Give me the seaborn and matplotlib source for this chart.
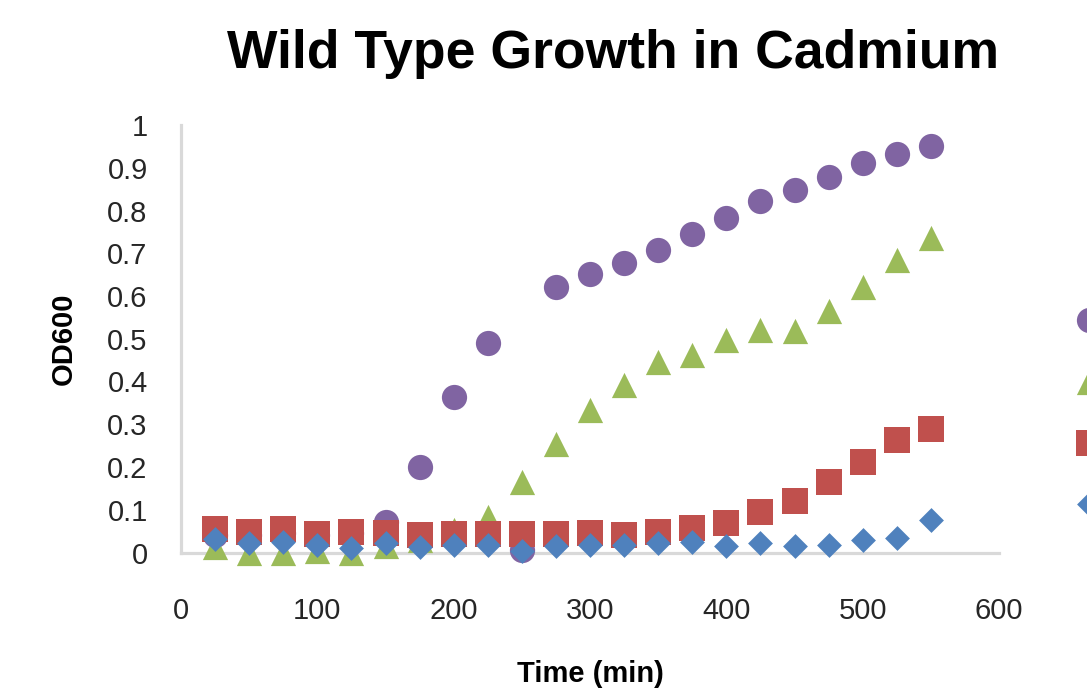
import matplotlib
matplotlib.use('Agg')
import matplotlib.pyplot as plt
import seaborn as sns
import pandas as pd
from matplotlib.ticker import FuncFormatter

# dados (OD600 x tempo)
time_min = [25, 50, 75, 100, 125, 150, 175, 200, 225, 250, 275,
            300, 325, 350, 375, 400, 425, 450, 475, 500, 525, 550]

od_purple = [0.04, 0.04, 0.045, 0.04, 0.045, 0.072, 0.2, 0.363, 0.49, 0.005, 0.62,
             0.652, 0.677, 0.708, 0.745, 0.783, 0.822, 0.849, 0.879, 0.91, 0.931, 0.95]
od_green = [0.012, 0.0, 0.0, 0.004, 0.0, 0.015, 0.03, 0.052, 0.082, 0.166, 0.254,
            0.334, 0.392, 0.445, 0.462, 0.496, 0.52, 0.519, 0.564, 0.621, 0.685, 0.735]
od_red = [0.055, 0.049, 0.055, 0.043, 0.049, 0.045, 0.041, 0.043, 0.043, 0.043, 0.043,
          0.045, 0.041, 0.049, 0.058, 0.068, 0.094, 0.121, 0.166, 0.211, 0.262, 0.288]
od_blue = [0.032, 0.022, 0.025, 0.018, 0.01, 0.022, 0.014, 0.018, 0.018, 0.004, 0.016,
           0.018, 0.018, 0.022, 0.025, 0.016, 0.022, 0.016, 0.018, 0.029, 0.033, 0.076]

series_labels = ['No Cadmium', '25 uM Cd', '50 uM Cd', '100 uM Cd']
series_values = [od_purple, od_green, od_red, od_blue]
series_colors = ['#8064A2', '#9BBB59', '#C0504D', '#4F81BD']
series_markers = ['o', '^', 's', 'D']
series_sizes = [330, 330, 340, 160]

x_ticks = [0, 100, 200, 300, 400, 500, 600]
y_ticks = [0, 0.1, 0.2, 0.3, 0.4, 0.5, 0.6, 0.7, 0.8, 0.9, 1.0]

sns.set_style('white')
plt.rcParams['font.family'] = ['Liberation Sans', 'DejaVu Sans']

W, H = 1087, 690
fig = plt.figure(figsize=(W / 100, H / 100), dpi=100)
ax = fig.add_axes([181 / W, 1 - 552.5 / H, 818 / W, 427.5 / H])

for label, vals, cor, mk, sz in zip(series_labels, series_values, series_colors,
                                     series_markers, series_sizes):
    df = pd.DataFrame({'Tempo': time_min, 'OD600': vals})
    sns.scatterplot(data=df, x='Tempo', y='OD600', ax=ax, color=cor, marker=mk,
                    s=sz, linewidth=0, label=label, clip_on=False, zorder=3)

ax.set_xlim(0, 600)
ax.set_ylim(0, 1)
ax.set_xticks(x_ticks)
ax.set_yticks(y_ticks)
ax.yaxis.set_major_formatter(FuncFormatter(lambda v, p: '{:g}'.format(round(v, 2))))
ax.tick_params(axis='both', length=0, labelsize=21, colors='#262626')
ax.tick_params(axis='y', pad=24)
ax.tick_params(axis='x', pad=32)

for lado in ['top', 'right']:
    ax.spines[lado].set_visible(False)
for lado in ['left', 'bottom']:
    ax.spines[lado].set_color('#D9D9D9')
    ax.spines[lado].set_linewidth(2.3)

ax.set_xlabel('Time (min)', fontsize=21, fontweight='bold', color='black')
ax.set_ylabel('OD600', fontsize=21, fontweight='bold', color='black')
ax.xaxis.set_label_coords(0.5, -0.2515)
ax.yaxis.set_label_coords(-0.126, 0.5)

fig.text(613 / W, 1 - 68 / H, 'Wild Type Growth in Cadmium', ha='center',
         va='baseline', fontsize=38.5, fontweight='bold', color='black')

# legenda cortada na borda direita, como no original (so os marcadores aparecem)
leg = ax.legend(loc='upper left', bbox_to_anchor=(1074 / W, 1 - 306 / H),
                bbox_transform=fig.transFigure, frameon=False, borderpad=0,
                borderaxespad=0, handlelength=1.0, handletextpad=0.6,
                labelspacing=1.14, fontsize=21)
for t in leg.get_texts():
    t.set_visible(False)

fig.savefig('out.png', dpi=100)
